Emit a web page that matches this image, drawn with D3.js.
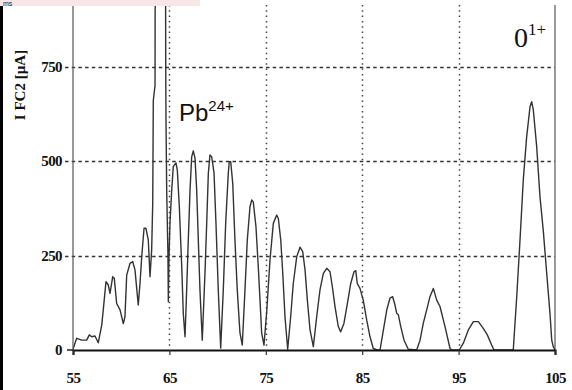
<!DOCTYPE html>
<html>
<head>
<meta charset="utf-8">
<script src="https://cdn.jsdelivr.net/npm/d3@7"></script>
<style>
  html, body { margin: 0; padding: 0; background: #fff; }
  svg { display: block; }
</style>
</head>
<body>
<script>
// ---- data ----
const voltage = [55.0,55.38,55.9,56.42,56.69,56.94,57.28,57.62,57.98,58.14,58.42,58.66,58.84,59.12,59.28,59.53,59.88,60.22,60.39,60.57,60.91,61.19,61.43,61.77,61.95,62.13,62.37,62.57,62.81,62.99,63.16,63.27,63.33,63.51,63.52,63.61,64.1,64.6,64.62,64.65,64.72,64.85,64.89,64.95,65.06,65.24,65.40,65.68,65.82,66.03,66.28,66.44,66.62,66.79,66.96,67.14,67.31,67.48,67.66,67.83,68.00,68.17,68.41,68.69,68.87,69.04,69.21,69.39,69.63,69.83,70.07,70.32,70.59,70.84,71.11,71.21,71.36,71.57,71.80,72.04,72.32,72.56,72.84,73.08,73.36,73.54,73.70,73.98,74.22,74.40,74.57,74.81,75.09,75.44,75.78,76.13,76.30,76.55,76.76,76.99,77.27,77.58,77.85,78.21,78.55,78.83,79.07,79.31,79.59,79.93,80.28,80.62,80.97,81.32,81.66,81.90,82.18,82.52,82.77,83.11,83.46,83.81,84.15,84.33,84.49,84.77,85.11,85.47,85.81,86.15,86.57,86.85,87.20,87.55,87.88,88.16,88.40,88.58,88.75,89.00,89.34,89.78,90.65,91.00,91.34,91.69,92.03,92.38,92.73,93.07,93.59,94.11,94.29,95.07,95.49,96.01,96.53,97.05,97.56,97.98,98.43,98.67,100.67,101.03,101.37,101.71,102.06,102.41,102.58,102.75,103.10,103.44,103.78,104.14,104.48,104.66,104.82,105.0];
const currentFC2 = [2,31,26,26,40,35,37,19,66,106,181,172,150,194,190,123,106,70,88,198,229,234,212,119,176,247,322,322,291,194,265,388,660,700,900,950,1300,1000,745,600,420,250,128,238,336,423,485,495,476,379,220,97,35,159,291,423,511,527,507,423,291,159,26,203,336,468,516,511,468,336,159,5,159,336,468,498,498,441,291,159,45,13,159,291,379,397,392,326,220,132,45,13,100,240,335,357,348,291,203,88,2,88,176,247,272,260,212,132,53,9,88,159,203,216,207,168,115,62,48,71,123,176,207,210,176,163,132,79,35,4,0,0,53,106,137,141,119,97,93,62,26,2,0,26,71,106,141,163,132,115,62,4,0,0,18,53,75,75,57,40,13,0,0,141,291,450,564,644,657,635,538,406,317,203,97,26,9,0];
const xTicks = [55, 65, 75, 85, 95, 105];
const xGrid = [65, 75, 85, 95];
const yTicks = [0, 250, 500, 750];
const yGrid = [250, 500, 750];
const yTitle = "I FC2 [\u00b5A]";

// ---- drawing ----
const W = 572, H = 390;
const svg = d3.select("body").append("svg").attr("width", W).attr("height", H);

const x = d3.scaleLinear().domain([55, 105]).range([73, 555]);
const y = d3.scaleLinear().domain([0, 926]).range([350, 0]);

svg.append("defs").append("clipPath").attr("id", "plotclip")
  .append("rect").attr("x", 73).attr("y", 0).attr("width", 482).attr("height", 351);

// left thick black border
svg.append("rect").attr("x", 0).attr("y", 5).attr("width", 3).attr("height", H - 5).attr("fill", "#000");

// horizontal dashed grid
svg.append("g").selectAll("line").data(yGrid).join("line")
  .attr("x1", 65).attr("x2", 555)
  .attr("y1", d => Math.round(y(d)) + 0.5).attr("y2", d => Math.round(y(d)) + 0.5)
  .attr("stroke", "#333").attr("stroke-width", 1.3)
  .attr("stroke-dasharray", "3.5,3.2");

// vertical dotted grid
svg.append("g").selectAll("line").data(xGrid).join("line")
  .attr("x1", d => Math.round(x(d)) + 0.5).attr("x2", d => Math.round(x(d)) + 0.5)
  .attr("y1", 5).attr("y2", 349)
  .attr("stroke", "#444").attr("stroke-width", 1.5)
  .attr("stroke-dasharray", "1.5,3.8");

// right border
svg.append("line").attr("x1", 555).attr("x2", 555).attr("y1", 5).attr("y2", 350)
  .attr("stroke", "#777").attr("stroke-width", 1.5);

// data line
const line = d3.line().x((d, i) => x(voltage[i])).y(d => y(d));
svg.append("path").datum(currentFC2)
  .attr("clip-path", "url(#plotclip)")
  .attr("d", line)
  .attr("fill", "none").attr("stroke", "#333").attr("stroke-width", 1.4)
  .attr("stroke-linejoin", "round");

// y axis
const yAxis = d3.axisLeft(y).tickValues(yTicks).tickSize(0).tickPadding(11);
const gy = svg.append("g").attr("transform", "translate(73,0)").call(yAxis);
gy.select(".domain").remove();
gy.selectAll("text")
  .attr("font-family", "'Liberation Serif', 'Times New Roman', serif")
  .attr("font-weight", "bold").attr("font-size", 15).attr("fill", "#111")
  .attr("letter-spacing", -0.6);
svg.append("line").attr("x1", 73).attr("x2", 73).attr("y1", 5).attr("y2", 350)
  .attr("stroke", "#555").attr("stroke-width", 1.2);
svg.append("line").attr("x1", 67).attr("x2", 73).attr("y1", y(0)).attr("y2", y(0))
  .attr("stroke", "#222").attr("stroke-width", 1.5);

// x axis
const xAxis = d3.axisBottom(x).tickValues(xTicks).tickSize(5).tickPadding(0);
const gx = svg.append("g").attr("transform", "translate(0,350)").call(xAxis);
gx.select(".domain").attr("stroke", "#111").attr("stroke-width", 2.2);
gx.selectAll(".tick line").attr("stroke", "#333").attr("stroke-width", 1.2);
gx.selectAll("text")
  .attr("y", 33).attr("dy", null)
  .attr("font-family", "'Liberation Serif', 'Times New Roman', serif")
  .attr("font-weight", "bold").attr("font-size", 15).attr("fill", "#111")
  .attr("letter-spacing", -0.6);

// y title
svg.append("text")
  .attr("transform", "translate(25,85) rotate(-90)")
  .attr("text-anchor", "middle")
  .attr("font-family", "'Liberation Serif', 'Times New Roman', serif")
  .attr("font-weight", "bold").attr("font-size", 15).attr("fill", "#111")
  .text(yTitle);

// annotations
const pb = svg.append("text").attr("x", 179).attr("y", 121)
  .attr("font-family", "'Liberation Sans', Arial, sans-serif")
  .attr("font-size", 24).attr("fill", "#111");
pb.append("tspan").text("Pb");
pb.append("tspan").attr("font-size", 15).attr("dy", -10).text("24+");

const ox = svg.append("text").attr("x", 514).attr("y", 47)
  .attr("font-family", "'Liberation Serif', 'Times New Roman', serif")
  .attr("font-size", 28).attr("fill", "#111");
ox.append("tspan").text("0");
ox.append("tspan").attr("font-size", 17).attr("dy", -12).text("1+");

// title strip at the top
svg.append("rect").attr("x", 0).attr("y", 0).attr("width", 200).attr("height", 6).attr("fill", "#f6e6e8");
svg.append("text").attr("x", 3).attr("y", 5.5)
  .attr("font-family", "'Liberation Sans', Arial, sans-serif").attr("font-size", 7).attr("fill", "#222")
  .text("ms");
</script>
</body>
</html>
